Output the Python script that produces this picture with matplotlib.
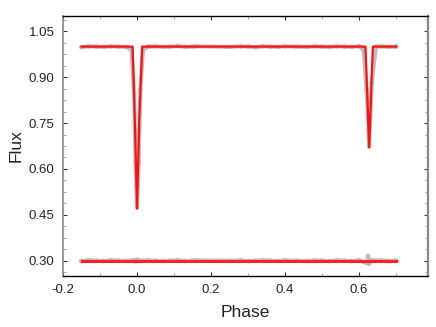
import matplotlib
matplotlib.use("Agg")
import matplotlib.pyplot as plt
from matplotlib.ticker import MultipleLocator

plt.rcParams['font.family'] = ['Liberation Sans', 'DejaVu Sans']

# Model light curve (phase, flux)
model_phase = [-0.15, -0.012, -0.006, 0.0, 0.006, 0.014, 0.617, 0.622, 0.627, 0.632, 0.637, 0.70]
model_flux = [1.0, 1.0, 0.76, 0.47, 0.76, 1.0, 1.0, 0.84, 0.67, 0.84, 1.0, 1.0]

# Observed points (phase, flux)
obs_phase = [-0.15, -0.13, -0.11, -0.09, -0.07, -0.05, -0.03, -0.015, -0.008, -0.004, 0.0,
             0.004, 0.009, 0.016, 0.03, 0.05, 0.07, 0.09, 0.11, 0.13, 0.15, 0.16,
             0.25, 0.28, 0.30, 0.32, 0.34, 0.36, 0.38, 0.40, 0.43, 0.46, 0.48, 0.50,
             0.52, 0.54, 0.56, 0.58, 0.60, 0.612, 0.62, 0.624, 0.627, 0.63, 0.634,
             0.645, 0.66, 0.68, 0.70]
obs_flux = [0.998, 1.001, 1.0, 0.999, 1.001, 1.0, 0.999, 0.99, 0.85, 0.62, 0.475,
            0.62, 0.86, 0.99, 1.0, 1.001, 0.999, 1.0, 1.002, 0.999, 1.0, 1.001,
            0.999, 1.001, 1.0, 0.998, 1.001, 1.0, 0.999, 1.001, 1.0, 0.999, 1.001, 1.0,
            0.999, 1.001, 1.0, 0.999, 1.001, 0.99, 0.86, 0.77, 0.675, 0.77, 0.88,
            1.0, 1.001, 0.999, 1.0]

# Residuals (offset to 0.30)
res_line_phase = [-0.15, 0.70]
res_line_flux = [0.30, 0.30]
res_phase = [-0.15, -0.13, -0.11, -0.09, -0.07, -0.05, -0.03, -0.015, -0.008, -0.004, 0.0,
             0.004, 0.009, 0.016, 0.03, 0.05, 0.07, 0.09, 0.11, 0.13, 0.15, 0.16,
             0.25, 0.28, 0.30, 0.32, 0.34, 0.36, 0.38, 0.40, 0.43, 0.46, 0.48, 0.50,
             0.52, 0.54, 0.56, 0.58, 0.60, 0.612, 0.62, 0.624, 0.627, 0.63, 0.634,
             0.645, 0.66, 0.68, 0.70]
res_flux = [0.299, 0.301, 0.300, 0.299, 0.301, 0.300, 0.299, 0.300, 0.302, 0.298, 0.303,
            0.301, 0.299, 0.300, 0.301, 0.300, 0.299, 0.300, 0.301, 0.299, 0.300, 0.301,
            0.300, 0.301, 0.299, 0.300, 0.301, 0.300, 0.299, 0.301, 0.300, 0.299, 0.301, 0.300,
            0.299, 0.301, 0.300, 0.299, 0.301, 0.296, 0.293, 0.315, 0.290, 0.297, 0.301,
            0.300, 0.301, 0.299, 0.300]

fig = plt.figure(figsize=(4.36, 3.27), dpi=100)
ax = fig.add_axes([0.1445, 0.156, 0.8372, 0.795])

ax.plot(obs_phase, obs_flux, color='#bdbdbd', lw=3.0, solid_capstyle='round', zorder=1)
ax.scatter(obs_phase, obs_flux, s=7, facecolors='none', edgecolors='#b5b5b5', lw=0.6, zorder=2)
ax.plot(res_phase, res_flux, color='#c0c0c0', lw=3.0, zorder=1)
ax.scatter(res_phase, res_flux, s=7, facecolors='none', edgecolors='#b5b5b5', lw=0.6, zorder=2)

ax.plot(model_phase, model_flux, color='#ff1010', lw=1.6, zorder=3)
ax.plot(res_line_phase, res_line_flux, color='#ff2020', lw=2.2, zorder=3)

ax.set_xlim(-0.2, 0.786)
ax.set_ylim(0.25, 1.10)
ax.set_xticks([-0.2, 0.0, 0.2, 0.4, 0.6])
ax.set_xticklabels(['-0.2', '0.0', '0.2', '0.4', '0.6'])
ax.set_yticks([0.30, 0.45, 0.60, 0.75, 0.90, 1.05])
ax.set_yticklabels(['0.30', '0.45', '0.60', '0.75', '0.90', '1.05'])
ax.xaxis.set_minor_locator(MultipleLocator(0.1))
ax.yaxis.set_minor_locator(MultipleLocator(0.0375))

ax.tick_params(which='major', direction='in', length=3, width=0.8, color='#333333',
               labelsize=9.5, labelcolor='#222222', top=True, right=True, pad=6)
ax.tick_params(which='minor', direction='in', length=2, width=0.6, color='#999999',
               top=True, right=True)

for s in ['top', 'bottom']:
    ax.spines[s].set_color('black')
    ax.spines[s].set_linewidth(1.0)
ax.spines['left'].set_color('#888888')
ax.spines['left'].set_linewidth(1.2)
ax.spines['right'].set_color('#888888')
ax.spines['right'].set_linewidth(1.6)

ax.set_xlabel('Phase', fontsize=12.5, labelpad=6, color='#222222')
ax.set_ylabel('Flux', fontsize=12.5, labelpad=4, color='#222222')

fig.savefig('out.png', dpi=100)
